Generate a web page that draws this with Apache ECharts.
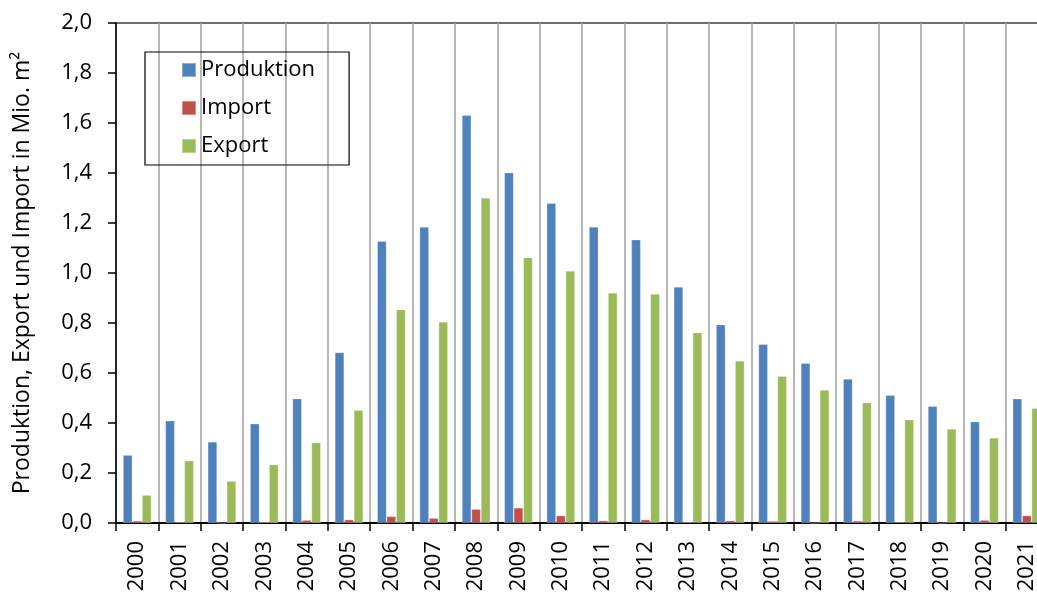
<!DOCTYPE html>
<html>
<head>
<meta charset="utf-8">
<script src="https://cdn.jsdelivr.net/npm/echarts@6/dist/echarts.min.js"></script>
<style>html,body{margin:0;padding:0;background:#fff;}#c{width:1037px;height:592px;}</style>
</head>
<body>
<div id="c"></div>
<script>
const years = ['2000','2001','2002','2003','2004','2005','2006','2007','2008','2009','2010','2011','2012','2013','2014','2015','2016','2017','2018','2019','2020','2021'];
const produktion = [0.272,0.41,0.325,0.398,0.498,0.683,1.128,1.185,1.632,1.402,1.28,1.185,1.134,0.945,0.794,0.716,0.64,0.577,0.512,0.468,0.406,0.498];
const importData = [0.009,0.005,0.0,0.005,0.012,0.014,0.027,0.02,0.056,0.061,0.03,0.01,0.014,0.005,0.01,0.008,0.0,0.009,0.004,0.0,0.012,0.03];
const exportData = [0.112,0.25,0.168,0.234,0.322,0.452,0.854,0.805,1.301,1.062,1.009,0.921,0.917,0.762,0.649,0.588,0.533,0.482,0.414,0.377,0.341,0.46];
const yTicks = {min: 0, max: 2, interval: 0.2};
const seriesNames = ['Produktion', 'Import', 'Export'];

const FONT = '"Open Sans", "Liberation Sans", sans-serif';
const chart = echarts.init(document.getElementById('c'), null, {renderer: 'canvas'});
function bar(name, data, color) {
  return {
    name: name, type: 'bar', data: data,
    barWidth: 9.5, barGap: '0%',
    itemStyle: {color: color, borderColor: 'rgba(255,255,255,0.35)', borderWidth: 0.8},
    emphasis: {disabled: true}
  };
}
chart.setOption({
  animation: false,
  backgroundColor: '#fff',
  textStyle: {fontFamily: FONT},
  grid: {left: 116, top: 23, width: 932, height: 500, outerBoundsMode: 'none', containLabel: false, show: true, borderColor: '#404040', borderWidth: 1.5, backgroundColor: 'transparent'},
  legend: {
    orient: 'vertical', left: 145, top: 52,
    data: seriesNames,
    itemWidth: 14, itemHeight: 14, itemGap: 16, icon: 'rect',
    padding: [7, 34, 8, 36],
    borderColor: '#000', borderWidth: 1.2,
    textStyle: {fontFamily: FONT, fontSize: 22, color: '#000', lineHeight: 22, padding: [0, 0, 0, 0]},
    selectedMode: false
  },
  xAxis: {
    type: 'category', data: years, boundaryGap: true,
    axisLine: {lineStyle: {color: '#000', width: 1.8}},
    axisTick: {show: true, length: 8, interval: 0, lineStyle: {color: '#000', width: 1.5}},
    axisLabel: {rotate: 90, interval: 0, margin: 18, fontFamily: FONT, fontSize: 22, color: '#000'},
    splitLine: {show: true, interval: 0, lineStyle: {color: '#A0A0A0', width: 1.5}}
  },
  yAxis: {
    type: 'value', min: yTicks.min, max: yTicks.max, interval: yTicks.interval,
    name: 'Produktion, Export und Import in Mio. m²',
    nameLocation: 'middle', nameGap: 82, nameRotate: 90,
    nameTextStyle: {fontFamily: FONT, fontSize: 23, color: '#000'},
    axisLine: {show: true, lineStyle: {color: '#000', width: 1.5}},
    axisTick: {show: true, length: 8, lineStyle: {color: '#000', width: 1.5}},
    axisLabel: {margin: 24, fontFamily: FONT, fontSize: 22, color: '#000', formatter: v => v.toFixed(1).replace('.', ',')},
    splitLine: {show: false}
  },
  series: [
    bar(seriesNames[0], produktion, '#4F81BD'),
    bar(seriesNames[1], importData, '#C0504D'),
    bar(seriesNames[2], exportData, '#9BBB59')
  ]
});
</script>
</body>
</html>
